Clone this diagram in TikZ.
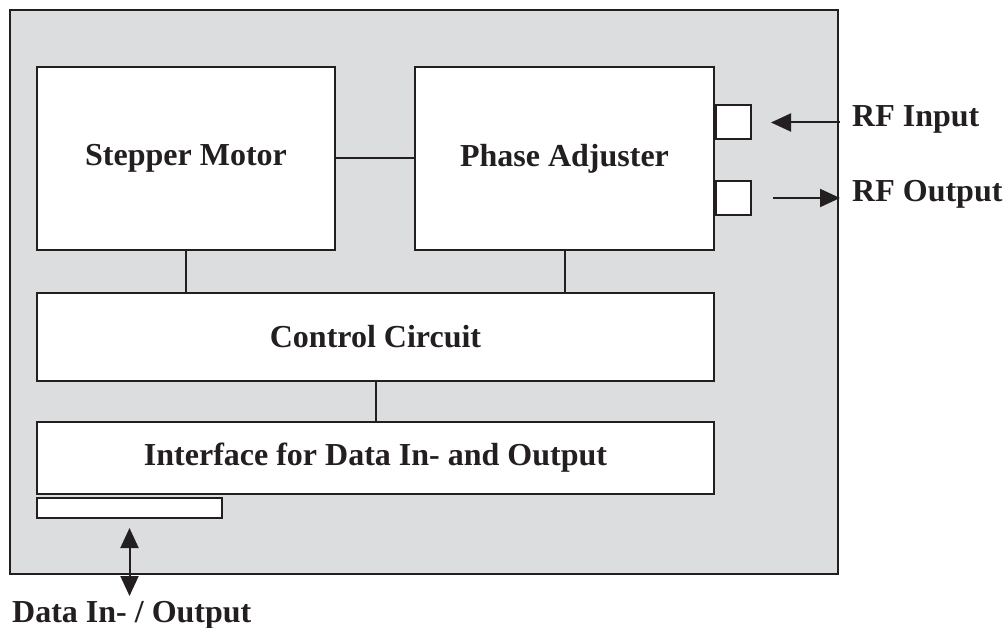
\documentclass[tikz,border=0pt]{standalone}
\usepackage{fontspec}
\setmainfont{Liberation Serif}
\usetikzlibrary{arrows.meta}

\definecolor{casegray}{HTML}{DCDDDE}
\definecolor{ink}{HTML}{231F20}

\tikzset{
	blk/.style={draw=ink, line width=2pt, fill=white, inner sep=0pt},
	lnk/.style={draw=ink, line width=2pt},
	arr/.style={draw=ink, line width=2pt, -{Triangle[length=20pt,width=18pt]}},
	dblarr/.style={draw=ink, line width=2pt, {Triangle[length=20pt,width=18pt]}-{Triangle[length=20pt,width=18pt]}},
	lbl/.style={inner sep=0pt, anchor=base west}
}

\begin{document}
\begin{tikzpicture}[x=1pt, y=-1pt, font=\fontsize{32}{38}\selectfont\bfseries, text=ink]

	\useasboundingbox (0,0) rectangle (1003,628);

	\node[blk, fill=casegray, line width=2.5pt, minimum width=828pt, minimum height=564pt] (case) at (424,292) {};

	\node[blk, minimum width=298pt, minimum height=183pt] (motor) at (186,158.5) {Stepper Motor};
	\node[blk, minimum width=299pt, minimum height=183pt] (phase) at (564.5,158.5) {Phase Adjuster};
	\node[blk, minimum width=677pt, minimum height=88pt] (ctrl) at (375.5,337) {Control Circuit};
	\node[blk, minimum width=677pt, minimum height=72pt] (iface) at (375.5,458) {Interface for Data In- and Output};
	\node[blk, minimum width=185pt, minimum height=20pt] (port) at (129.5,508) {};

	\node[blk, minimum width=35pt, minimum height=34pt] (rfin) at (733.5,122.5) {};
	\node[blk, minimum width=35pt, minimum height=34pt] (rfout) at (733.5,198) {};

	\node[lbl] (rfinlbl) at (852,127) {RF Input};
	\node[lbl] (rfoutlbl) at (852,202) {RF Output};
	\node[lbl] (datalbl) at (12,622) {Data In- / Output};

	\draw[lnk] (motor.east) -- (phase.west);
	\draw[lnk] (motor.south) -- (motor.south |- ctrl.north);
	\draw[lnk] (phase.south) -- (phase.south |- ctrl.north);
	\draw[lnk] (ctrl.south) -- (ctrl.south |- iface.north);

	\draw[arr] ([xshift=-12pt]rfinlbl.west |- rfin) -- ([xshift=19pt]rfin.east);
	\draw[arr] ([xshift=21pt]rfout.east) -- ([xshift=-12pt]rfoutlbl.west |- rfout);

	\coordinate (datatip) at ([yshift=-77pt]port.south);
	\draw[dblarr] ([yshift=-9pt]port.south) -- (datatip);

\end{tikzpicture}
\end{document}
